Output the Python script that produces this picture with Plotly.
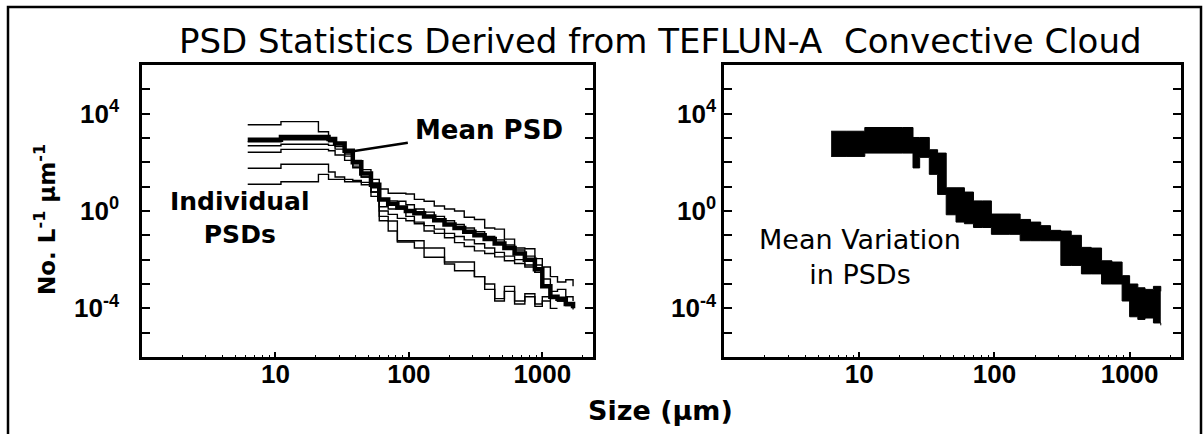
import math
import plotly.graph_objects as go

# Bin sizes (µm) shared by every size distribution
size_um = [6.2, 8, 11, 15, 21, 25, 28, 33, 38, 44, 52, 60, 70, 82, 95, 110, 130,
           155, 185, 220, 260, 310, 370, 440, 520, 620, 740, 880, 1000, 1150,
           1300, 1500, 1700]

# Individual particle size distributions (No. L^-1 µm^-1)
psd_1 = [3500, 3500, 4700, 4700, 1800, 900, 600, 250, 120, 50, 20, 8, 5.4, 5.4, 5,
         3, 2.5, 1.6, 1.2, 1.0, 0.55, 0.45, 0.2, 0.18, 0.07, 0.03, 0.028, 0.011,
         0.005, 0.002, 0.0012, 0.0015, 0.0008]
psd_2 = [700, 700, 850, 850, 850, 700, 450, 220, 90, 35, 14, 3, 2.6, 2.5, 1.8, 1.2,
         0.9, 0.6, 0.4, 0.28, 0.2, 0.14, 0.09, 0.065, 0.04, 0.025, 0.014, 0.006,
         0.0016, 5e-4, 6e-4, 3e-4, 2e-4]
psd_3 = [480, 480, 550, 550, 550, 500, 350, 180, 70, 25, 9, 1.5, 1.2, 1.2, 0.6, 0.3,
         0.15, 0.12, 0.08, 0.05, 0.035, 0.023, 0.018, 0.013, 0.009, 0.007, 0.005,
         0.003, 8e-4, 3e-4, 2e-4, 1.5e-4, 1.2e-4]
psd_4 = [260, 260, 340, 340, 340, 300, 200, 120, 60, 25, 6, 0.6, 0.39, 0.06, 0.06,
         0.06, 0.0126, 0.0126, 0.0066, 0.0035, 0.0035, 0.002, 6e-4, 2e-4, 5e-4,
         2e-4, 3e-4, 1.5e-4, 3e-4, 1e-4, 1e-4, None, None]
psd_5 = [57, 57, 83, 83, 83, 40, 25, 20, 18, 15, 6, 0.4, 0.15, 0.053, 0.053, 0.03,
         0.03, 0.03, 0.008, 0.008, 0.008, 0.002, 0.001, 2.5e-4, 8e-4, 1.5e-4, 4e-4,
         1.2e-4, 2e-4, 2e-4, None, None, None]
psd_6 = [12.6, 12.6, 16, 16, 32, 20, 20, 16, 16, 12, 4, 1.0, 0.73, 0.5, 0.4, 0.35,
         0.25, 0.18, 0.12, 0.09, 0.065, 0.045, 0.03, 0.02, 0.014, 0.01, 0.006,
         0.003, 8e-4, 2.5e-4, 2e-4, 1.3e-4, 9e-5]
individual_psds = [psd_1, psd_2, psd_3, psd_4, psd_5, psd_6]

# Mean PSD
mean_psd = [850, 850, 1100, 1100, 1100, 900, 600, 300, 100, 35, 12, 3, 2, 1.4, 1.0,
            0.8, 0.6, 0.42, 0.28, 0.2, 0.14, 0.1, 0.07, 0.046, 0.03, 0.018, 0.01,
            0.004, 8e-4, 3e-4, 2.5e-4, 1.5e-4, 1e-4]

# Mean variation envelope (lower / upper bounds)
variation_low = [175, 175, 240, 240, 240, 59, 160, 32, 4.8, 0.7, 0.35, 0.3, 0.21,
                 0.21, 0.11, 0.11, 0.11, 0.06, 0.06, 0.06, 0.06, 0.0058, 0.0058,
                 0.0026, 0.0026, 0.001, 0.001, 2e-4, 4.5e-5, 3.5e-5, 4e-5, 2.5e-5,
                 2e-5]
variation_high = [1900, 1900, 2700, 2700, 2700, 1050, 1050, 330, 240, 9, 9, 6, 2.6,
                  2.6, 0.75, 0.75, 0.75, 0.45, 0.35, 0.25, 0.16, 0.15, 0.1, 0.032,
                  0.03, 0.009, 0.008, 0.0022, 0.001, 7e-4, 6e-4, 8e-4, 5e-4]

x_ticks = [10, 100, 1000]
x_ticktext = ["10", "100", "1000"]
y_ticks = [10.0 ** k for k in range(-6, 7)]
y_ticktext = {-4: "10<sup>-4</sup>", 0: "10<sup>0</sup>", 4: "10<sup>4</sup>"}

W, H = 1204, 434
FONT = "DejaVu Sans"
TICK_FONT = "Liberation Sans"


def px(x):
    return x / W


def py(y):
    return 1 - y / H


fig = go.Figure()

for psd in individual_psds:
    fig.add_trace(go.Scatter(x=size_um, y=psd, mode="lines", line_shape="hv",
                             line=dict(color="black", width=1.4),
                             connectgaps=False, xaxis="x", yaxis="y"))
fig.add_trace(go.Scatter(x=size_um, y=mean_psd, mode="lines", line_shape="hv",
                         line=dict(color="black", width=4.5), xaxis="x", yaxis="y"))

fig.add_trace(go.Scatter(x=size_um, y=variation_low, mode="lines", line_shape="hv",
                         line=dict(color="black", width=1), xaxis="x2", yaxis="y2"))
fig.add_trace(go.Scatter(x=size_um, y=variation_high, mode="lines", line_shape="hv",
                         line=dict(color="black", width=1), fill="tonexty",
                         fillcolor="black", xaxis="x2", yaxis="y2"))

minor_x = [m * 10 ** d for d in range(0, 4) for m in range(2, 10)]

xaxis_common = dict(
    type="log", range=[0, 3.38], showgrid=False, zeroline=False,
    showline=True, linecolor="black", linewidth=2.5, mirror=True,
    ticks="inside", ticklen=5, tickwidth=1.5, tickcolor="black",
    tickvals=x_ticks, ticktext=x_ticktext, ticklabelstandoff=-8,
    tickfont=dict(family=TICK_FONT, size=26, color="black", weight="bold"),
    minor=dict(ticks="inside", ticklen=2.5, tickwidth=1, tickcolor="black",
               tickvals=minor_x),
)
yaxis_common = dict(
    type="log", range=[-6, 6], showgrid=False, zeroline=False,
    showline=True, linecolor="black", linewidth=2.5, mirror="ticks",
    ticks="inside", ticklen=8, tickwidth=1.5, tickcolor="black",
    tickvals=y_ticks,
    ticktext=[y_ticktext.get(k, "") for k in range(-6, 7)],
    tickfont=dict(family=TICK_FONT, size=26, color="black", weight="bold"),
    domain=[py(357), py(65)],
)

fig.update_layout(
    width=W, height=H, margin=dict(l=0, r=0, t=0, b=0),
    paper_bgcolor="white", plot_bgcolor="white", showlegend=False,
    font=dict(family=FONT, color="black"),
    xaxis=dict(xaxis_common, domain=[px(142), px(593)], anchor="y"),
    yaxis=dict(yaxis_common, anchor="x", ticklabelstandoff=15),
    xaxis2=dict(xaxis_common, domain=[px(724), px(1181)], anchor="y2"),
    yaxis2=dict(yaxis_common, anchor="x2", ticklabelstandoff=0),
)

annotations = [
    dict(text="PSD Statistics Derived from TEFLUN-A\u00a0 Convective Cloud",
         x=px(660), y=py(41), font=dict(size=34)),
    dict(text="No. L<sup>-1</sup> µm<sup>-1</sup>", textangle=-90,
         x=px(45), y=py(220), font=dict(size=23, weight="bold")),
    dict(text="Size (µm)", x=px(660), y=py(410), font=dict(size=27, weight="bold")),
    dict(text="Individual<br>PSDs", x=px(240), y=py(218),
         font=dict(size=25, weight="bold")),
    dict(text="Mean Variation<br>in PSDs", x=px(860), y=py(257),
         font=dict(size=27)),
]
for a in annotations:
    a.update(xref="paper", yref="paper", xanchor="center", yanchor="middle",
             showarrow=False)
    a["font"] = dict(a["font"], family=FONT, color="black")
    fig.add_annotation(**a)

# Mean PSD label with a pointer line to the mean curve
fig.add_annotation(text="Mean PSD", xref="x", yref="y",
                   x=math.log10(37), y=math.log10(280),
                   ax=138, ay=-21, showarrow=True, arrowhead=0, arrowwidth=2.5,
                   arrowcolor="black", startstandoff=6,
                   font=dict(family=FONT, size=26, color="black", weight="bold"))

# Outer frame around the whole figure
fig.add_shape(type="rect", xref="paper", yref="paper",
              x0=px(8), x1=px(1201), y0=-0.05, y1=py(7),
              line=dict(color="black", width=2.5), fillcolor="rgba(0,0,0,0)")

fig.write_html("out.html")
